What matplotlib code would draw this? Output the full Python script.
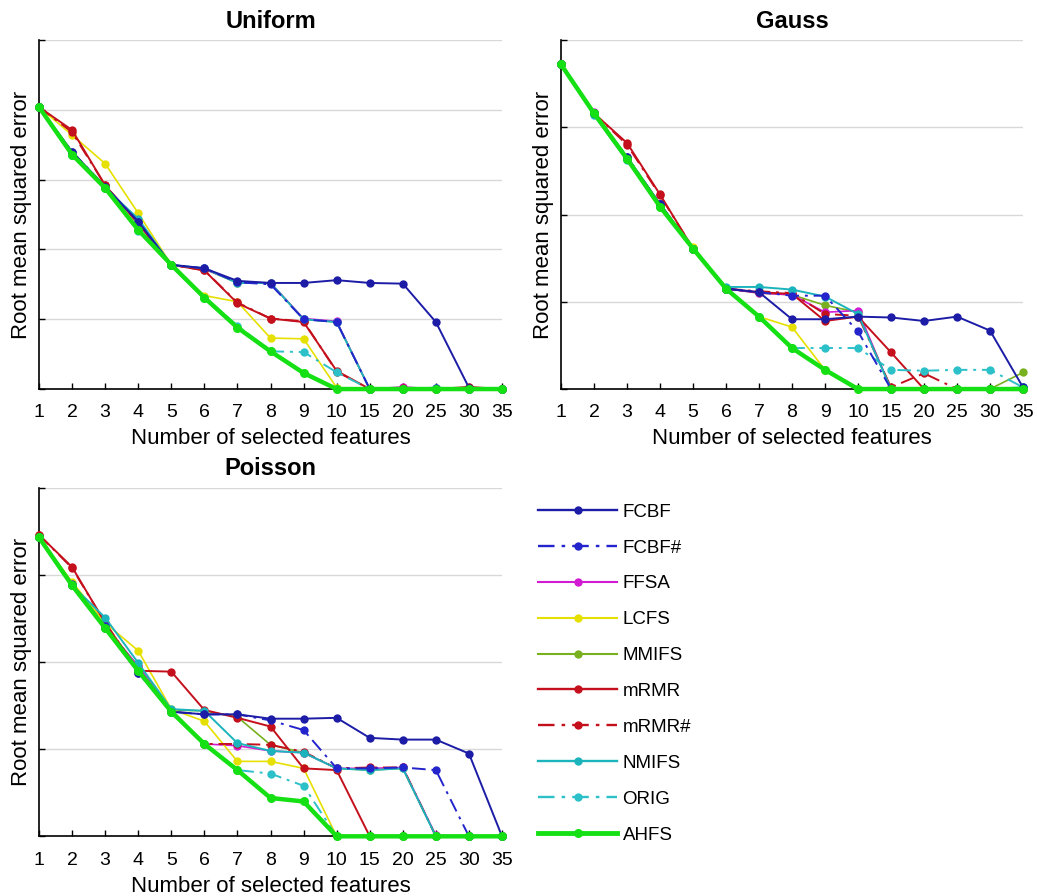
import matplotlib
matplotlib.use("Agg")
import matplotlib.pyplot as plt
from matplotlib.lines import Line2D

plt.rcParams["font.family"] = ["Liberation Sans", "DejaVu Sans"]

# x categories (number of selected features)
n_features = ["1", "2", "3", "4", "5", "6", "7", "8", "9", "10", "15", "20", "25", "30", "35"]

methods = ["FCBF", "FCBF#", "FFSA", "LCFS", "MMIFS", "mRMR", "mRMR#", "NMIFS", "ORIG", "AHFS"]

# --- Uniform ---
uni_fcbf = [4.04, 3.40, 2.90, 2.40, 1.78, 1.73, 1.55, 1.52, 1.52, 1.56, 1.52, 1.51, 0.96, 0.02, 0]
uni_fcbf_h = [4.04, 3.40, 2.90, 2.40, 1.78, 1.73, 1.53, 1.50, 1.00, 0.96, 0, 0, 0.01, 0, 0]
uni_ffsa = [4.04, 3.38, 2.90, 2.42, 1.78, 1.72, 1.53, 1.52, 1.01, 0.97, 0, 0.03, 0, 0, 0]
uni_lcfs = [4.04, 3.64, 3.23, 2.52, 1.78, 1.34, 1.25, 0.73, 0.72, 0.02, 0, 0, 0, 0, 0]
uni_mmifs = [4.04, 3.38, 2.88, 2.40, 1.78, 1.72, 1.52, 1.52, 1.00, 0.96, 0, 0, 0, 0, 0]
uni_mrmr = [4.04, 3.71, 2.92, 2.37, 1.78, 1.70, 1.23, 1.01, 0.96, 0.26, 0, 0, 0, 0.03, 0]
uni_mrmr_h = [4.04, 3.68, 2.92, 2.37, 1.78, 1.70, 1.24, 1.01, 0.97, 0.25, 0, 0.01, 0, 0.02, 0]
uni_nmifs = [4.04, 3.36, 2.88, 2.44, 1.78, 1.73, 1.52, 1.52, 1.00, 0.96, 0, 0, 0.02, 0, 0]
uni_orig = [4.04, 3.36, 2.88, 2.26, 1.78, 1.31, 0.91, 0.54, 0.53, 0.24, 0, 0, 0, 0, 0]
uni_ahfs = [4.04, 3.36, 2.88, 2.28, 1.78, 1.31, 0.88, 0.54, 0.23, 0, 0, 0, 0, 0, 0]

# --- Gauss ---
gau_fcbf = [3.72, 3.16, 2.66, 2.12, 1.61, 1.15, 1.11, 0.80, 0.80, 0.83, 0.82, 0.78, 0.83, 0.67, 0.02]
gau_fcbf_h = [3.72, 3.16, 2.66, 2.12, 1.61, 1.15, 1.11, 1.07, 1.07, 0.66, 0, 0, 0, 0, 0]
gau_ffsa = [3.72, 3.17, 2.64, 2.12, 1.61, 1.15, 1.10, 1.08, 0.88, 0.90, 0, 0, 0, 0, 0]
gau_lcfs = [3.72, 3.16, 2.64, 2.10, 1.63, 1.15, 0.83, 0.71, 0.22, 0, 0, 0, 0, 0, 0]
gau_mmifs = [3.72, 3.16, 2.64, 2.10, 1.61, 1.15, 1.10, 1.08, 0.96, 0.88, 0, 0, 0, 0, 0.19]
gau_mrmr = [3.72, 3.16, 2.82, 2.23, 1.61, 1.15, 1.11, 1.09, 0.78, 0.83, 0.42, 0, 0, 0, 0]
gau_mrmr_h = [3.72, 3.16, 2.80, 2.22, 1.61, 1.15, 1.12, 1.10, 0.86, 0.84, 0.02, 0.18, 0, 0, 0]
gau_nmifs = [3.72, 3.14, 2.62, 2.12, 1.61, 1.17, 1.17, 1.14, 1.06, 0.86, 0, 0, 0, 0, 0.02]
gau_orig = [3.72, 3.16, 2.64, 2.09, 1.61, 1.15, 0.83, 0.47, 0.47, 0.47, 0.22, 0.21, 0.22, 0.22, 0.02]
gau_ahfs = [3.72, 3.16, 2.64, 2.09, 1.61, 1.15, 0.83, 0.47, 0.22, 0, 0, 0, 0, 0, 0]

# --- Poisson ---
poi_fcbf = [3.43, 2.88, 2.39, 1.88, 1.43, 1.40, 1.40, 1.35, 1.35, 1.36, 1.13, 1.11, 1.11, 0.95, 0]
poi_fcbf_h = [3.43, 2.90, 2.41, 1.88, 1.43, 1.40, 1.40, 1.33, 1.22, 0.78, 0.78, 0.79, 0.76, 0, 0]
poi_ffsa = [3.43, 2.88, 2.41, 1.95, 1.45, 1.06, 1.04, 0.98, 0.96, 0.78, 0.78, 0.79, 0.01, 0, 0]
poi_lcfs = [3.43, 2.92, 2.45, 2.13, 1.46, 1.32, 0.86, 0.86, 0.78, 0, 0, 0, 0, 0, 0]
poi_mmifs = [3.43, 2.88, 2.41, 1.95, 1.45, 1.44, 1.37, 1.05, 0.96, 0.78, 0.76, 0.78, 0, 0, 0]
poi_mrmr = [3.46, 3.09, 2.45, 1.90, 1.89, 1.45, 1.36, 1.26, 0.78, 0.76, 0, 0, 0, 0, 0]
poi_mrmr_h = [3.46, 3.08, 2.45, 1.90, 1.45, 1.06, 1.06, 1.05, 0.97, 0.78, 0.79, 0.79, 0, 0, 0]
poi_nmifs = [3.43, 2.88, 2.51, 1.99, 1.46, 1.44, 1.07, 0.98, 0.96, 0.78, 0.76, 0.78, 0, 0, 0]
poi_orig = [3.43, 2.88, 2.39, 1.90, 1.43, 1.06, 0.76, 0.72, 0.58, 0, 0, 0, 0, 0, 0]
poi_ahfs = [3.43, 2.88, 2.39, 1.90, 1.43, 1.06, 0.76, 0.44, 0.40, 0, 0, 0, 0, 0, 0]

DASHDOT = (0, (7, 3, 1.5, 3))
# colour, linestyle, linewidth, markersize
styles = {
    "FCBF": ("#1c1ca6", "-", 1.4, 6),
    "FCBF#": ("#2424cc", DASHDOT, 1.4, 6),
    "FFSA": ("#d21ad2", "-", 1.2, 6),
    "LCFS": ("#e6e000", "-", 1.2, 6),
    "MMIFS": ("#78b020", "-", 1.2, 6),
    "mRMR": ("#c4101c", "-", 1.4, 6),
    "mRMR#": ("#c4101c", DASHDOT, 1.4, 6),
    "NMIFS": ("#1cb4bc", "-", 1.4, 6),
    "ORIG": ("#2cc0c8", DASHDOT, 1.4, 6),
    "AHFS": ("#14e014", "-", 3.2, 6.5),
}

panels = [
    ("Uniform", 5, [uni_fcbf, uni_fcbf_h, uni_ffsa, uni_lcfs, uni_mmifs,
                    uni_mrmr, uni_mrmr_h, uni_nmifs, uni_orig, uni_ahfs]),
    ("Gauss", 4, [gau_fcbf, gau_fcbf_h, gau_ffsa, gau_lcfs, gau_mmifs,
                  gau_mrmr, gau_mrmr_h, gau_nmifs, gau_orig, gau_ahfs]),
    ("Poisson", 4, [poi_fcbf, poi_fcbf_h, poi_ffsa, poi_lcfs, poi_mmifs,
                    poi_mrmr, poi_mrmr_h, poi_nmifs, poi_orig, poi_ahfs]),
]

# axes boxes in figure fraction [left, bottom, width, height]
boxes = [
    [0.0376, 0.5658, 0.4465, 0.3895],
    [0.5410, 0.5658, 0.4455, 0.3895],
    [0.0376, 0.0666, 0.4465, 0.3890],
]

fig = plt.figure(figsize=(10.37, 8.96), dpi=100)
x = list(range(len(n_features)))

# draw order: green AHFS on top, dark blue above the cyan ones
order = ["MMIFS", "FFSA", "LCFS", "mRMR#", "mRMR", "ORIG", "NMIFS", "FCBF#", "FCBF", "AHFS"]

for (title, ymax, series), box in zip(panels, boxes):
    ax = fig.add_axes(box)
    data = dict(zip(methods, series))
    for z, name in enumerate(order):
        color, ls, lw, ms = styles[name]
        ax.plot(x, data[name], color=color, linestyle=ls, linewidth=lw,
                marker="o", markersize=ms, markeredgewidth=0,
                clip_on=False, zorder=3 + z)
    ax.set_xlim(0, len(n_features) - 1)
    ax.set_ylim(0, ymax)
    ax.set_xticks(x)
    ax.set_xticklabels(n_features)
    ax.set_yticks(range(ymax + 1))
    ax.set_yticklabels([])
    ax.grid(axis="y", color="#d8d8d8", linewidth=1.0)
    ax.set_axisbelow(True)
    for side in ("top", "right"):
        ax.spines[side].set_visible(False)
    for side in ("left", "bottom"):
        ax.spines[side].set_linewidth(1.2)
        ax.spines[side].set_zorder(2)
    ax.tick_params(direction="in", length=4, width=1, labelsize=14, pad=11, colors="black")
    ax.set_title(title, fontsize=17, fontweight="bold", pad=9)
    ax.set_xlabel("Number of selected features", fontsize=16, labelpad=5)
    ax.set_ylabel("Root mean squared error", fontsize=16, labelpad=-6)

handles = []
for name in methods:
    color, ls, lw, ms = styles[name]
    handles.append(Line2D([], [], color=color, linestyle=ls, linewidth=lw + 0.3,
                          marker="o", markersize=ms, markeredgewidth=0))

fig.legend(handles, methods, loc="upper left", bbox_to_anchor=(0.519, 0.438),
           frameon=False, fontsize=13.5, handlelength=4.2, handletextpad=0.3,
           labelspacing=1.0, borderpad=0, borderaxespad=0, numpoints=1)

fig.savefig("out.png", dpi=100)
